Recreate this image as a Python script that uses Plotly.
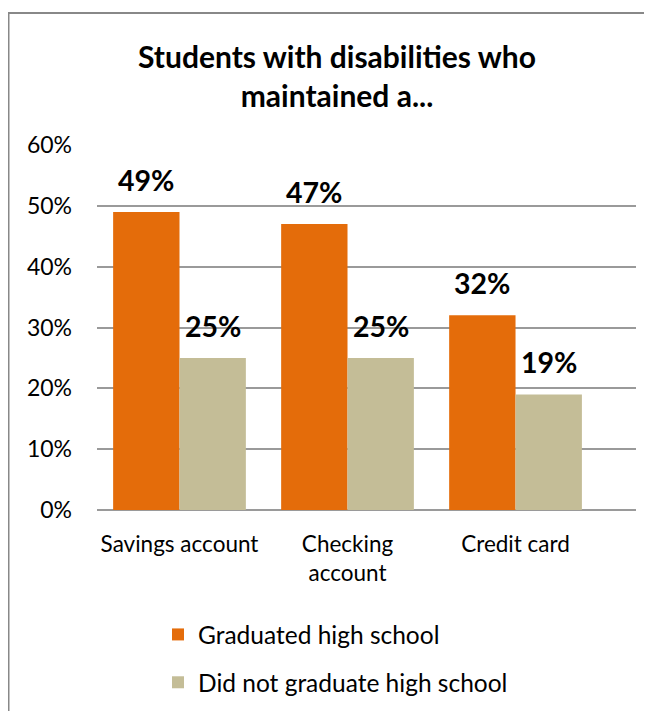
import plotly.graph_objects as go

categories = ["Savings account", "Checking<br>account", "Credit card"]
graduated = [0.49, 0.47, 0.32]
not_graduated = [0.25, 0.25, 0.19]
series_names = ["Graduated high school", "Did not graduate high school"]
y_ticks = [0, 0.1, 0.2, 0.3, 0.4, 0.5, 0.6]
y_tick_labels = ["0%", "10%", "20%", "30%", "40%", "50%", "60%"]

FONT = "Lato"
ORANGE = "#E46C0A"
TAN = "#C4BD97"

W, H = 644, 703
L, R, T, B = 89, 628, 137, 502   # plot area in page pixels
PW, PH = R - L, B - T
BARGAP = 0.21
HALF = (1 - BARGAP) / 4  # offset of each bar centre from category centre

fig = go.Figure()
fig.add_trace(go.Bar(x=categories, y=graduated, name=series_names[0],
                     marker_color=ORANGE, marker_line_width=0, legendgroup="a"))
fig.add_trace(go.Bar(x=categories, y=not_graduated, name=series_names[1],
                     marker_color=TAN, marker_line_width=0, legendgroup="b"))

for series, sign in ((graduated, -1), (not_graduated, 1)):
    for i, v in enumerate(series):
        fig.add_annotation(
            x=i + sign * HALF, y=v, xref="x", yref="y",
            text=f"<b>{v*100:.0f}%</b>", showarrow=False,
            yanchor="bottom", yshift=13,
            font=dict(family=FONT, size=28.5, color="black"),
        )

fig.update_layout(
    width=W, height=H,
    margin=dict(l=L, r=W - R, t=T, b=H - B, autoexpand=False),
    paper_bgcolor="white", plot_bgcolor="white",
    barmode="group", bargap=BARGAP, bargroupgap=0,
    font=dict(family=FONT, size=23, color="black"),
    title=dict(
        text="<b>Students with disabilities who<br>maintained a...</b>",
        x=329 / W, xanchor="center", xref="container",
        y=1 - 60 / H, yanchor="top", yref="container",
        font=dict(family=FONT, size=30, color="black"),
    ),
    xaxis=dict(
        type="category", range=[-0.491, 2.717], showgrid=False,
        showline=False, ticks="", tickfont=dict(size=22.5),
        ticklabelstandoff=18, automargin=False,
    ),
    yaxis=dict(
        range=[0, 0.6], tickvals=y_ticks, ticktext=y_tick_labels,
        showgrid=True, gridcolor="#9A9A9A", gridwidth=1.5,
        zeroline=True, zerolinecolor="#9A9A9A", zerolinewidth=1.5,
        showline=False, ticks="", ticklabelstandoff=24,
        tickfont=dict(size=23), automargin=False,
    ),
    legend=dict(
        orientation="v", x=(150 - L) / PW, xanchor="left",
        y=(B - 604) / PH, yanchor="top",
        font=dict(size=24.5), tracegroupgap=13, traceorder="grouped",
        bgcolor="rgba(0,0,0,0)",
    ),
    showlegend=True,
)

fig.add_shape(
    type="rect", xref="paper", yref="paper",
    x0=(0.5 - L) / PW, x1=1.2, y0=-1.0, y1=(B - 5) / PH,
    line=dict(color="#888888", width=2), fillcolor="rgba(0,0,0,0)", layer="below",
)

fig.write_html("out.html")
